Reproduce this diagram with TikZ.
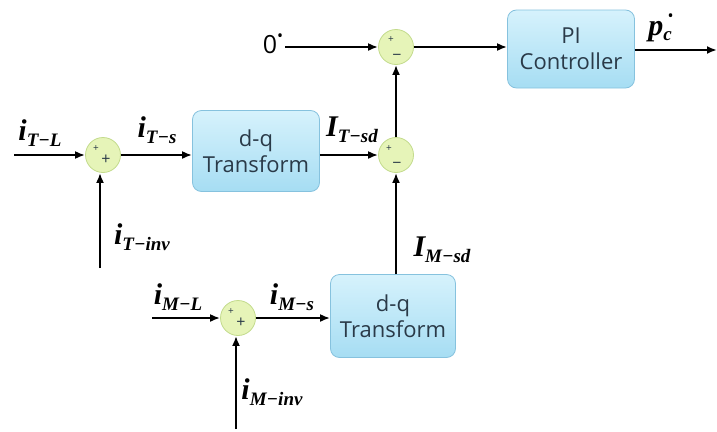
\documentclass[tikz,border=0pt]{standalone}
\usepackage{fontspec}
\setmainfont{Open Sans}
\newfontfamily\tms{Liberation Serif}
\usetikzlibrary{arrows.meta}
\definecolor{boxtop}{HTML}{D6F2FC}
\definecolor{boxbot}{HTML}{A6DDF3}
\definecolor{boxline}{HTML}{86C2DE}
\definecolor{boxtext}{HTML}{2A3A48}
\definecolor{sumfill}{HTML}{E6F4B8}
\definecolor{sumline}{HTML}{C3DB8C}
\newcommand\sigl[2]{{\tms\fontsize{30}{30}\selectfont\bfseries\itshape #1}\raisebox{-6pt}{\tms\fontsize{19}{19}\selectfont\bfseries\itshape #2}}
\newcommand\stardot{\raisebox{12pt}{\fontsize{16}{16}\selectfont\textbullet}}
\begin{document}
\begin{tikzpicture}[x=1pt,y=-1pt,
  blk/.style={draw=boxline, line width=0.8pt, rounded corners=9pt, top color=boxtop, bottom color=boxbot,
    minimum width=127pt, minimum height=81pt, align=center, text=boxtext,
    font=\fontsize{22}{26}\selectfont, inner sep=0pt},
  sumj/.style={circle, draw=sumline, fill=sumfill, line width=0.8pt, minimum size=35pt, inner sep=0pt},
  arr/.style={-{Latex[length=10pt,width=8pt]}, line width=2.2pt},
  sgn/.style={text=boxtext, inner sep=0pt},
  small/.style={sgn, font=\fontsize{10}{10}\selectfont},
  big/.style={sgn, font=\fontsize{16}{16}\selectfont},
  lab/.style={inner sep=0pt}
]
\useasboundingbox (0,0) rectangle (717,431);
% blocks
\node[blk] (b1) at (256,151) {d-q\\Transform};
\node[blk, minimum height=78pt] (pi) at (571,49) {PI\\Controller};
\node[blk, minimum width=125pt, minimum height=83pt] (b2) at (393,316) {d-q\\Transform};
% summing junctions
\node[sumj] (s1) at (103,155) {};
\node[sumj] (s2) at (396,155) {};
\node[sumj] (s3) at (396,47) {};
\node[sumj] (s4) at (238,318) {};
% signs
\node[small] at ([shift={(-7,-6)}]s1.center) {+};
\node[big] at ([shift={(3,5)}]s1.center) {+};
\node[small] at ([shift={(-7,-6)}]s2.center) {+};
\node[big] at ([shift={(1,10)}]s2.center) {−};
\node[small] at ([shift={(-5,-7)}]s3.center) {+};
\node[big] at ([shift={(1,10)}]s3.center) {−};
\node[small] at ([shift={(-7,-6)}]s4.center) {+};
\node[big] at ([shift={(3,5)}]s4.center) {+};
% free ends
\coordinate (in1) at (14,155);
\coordinate (inv1) at (100,268);
\coordinate (in4) at (152,318);
\coordinate (inv4) at (236,429);
\coordinate (out) at (717,50);
\node[lab, font=\fontsize{25}{25}\selectfont] (zero) at (273,44) {0\stardot};
% connectors
\draw[arr] (in1) -- (s1);
\draw[arr] (inv1) -- (inv1 |- s1.south);
\draw[arr] (s1) -- (s1 -| b1.west);
\draw[arr] (b1.east |- s2) -- (s2);
\draw[arr] (b2.north -| s2) -- (s2);
\draw[arr] (s2) -- (s3);
\draw[arr] (zero.east |- s3) ++(2,0) -- (s3);
\draw[arr] (s3) -- (s3 -| pi.west);
\draw[arr] (pi.east |- out) -- (out);
\draw[arr] (in4) -- (s4);
\draw[arr] (inv4) -- (inv4 |- s4.south);
\draw[arr] (s4) -- (s4 -| b2.west);
% labels
\node[lab] at (40,133) {\sigl{i}{T−L}};
\node[lab] at (157,130) {\sigl{i}{T−s}};
\node[lab] at (142,237) {\sigl{i}{T−inv}};
\node[lab] at (352,130) {\sigl{I}{T−sd}};
\node[lab] at (442,250) {\sigl{I}{M−sd}};
\node[lab] at (178,297) {\sigl{i}{M−L}};
\node[lab] at (292,297) {\sigl{i}{M−s}};
\node[lab] at (272,392) {\sigl{i}{M−inv}};
\node[lab] (pc) at (661,28) {{\tms\fontsize{30}{30}\selectfont\bfseries\itshape p}\raisebox{-5pt}{\tms\fontsize{19}{19}\selectfont\bfseries\itshape c}\hspace{-4pt}\raisebox{14pt}{\fontsize{16}{16}\selectfont\textbullet}};
\end{tikzpicture}
\end{document}
